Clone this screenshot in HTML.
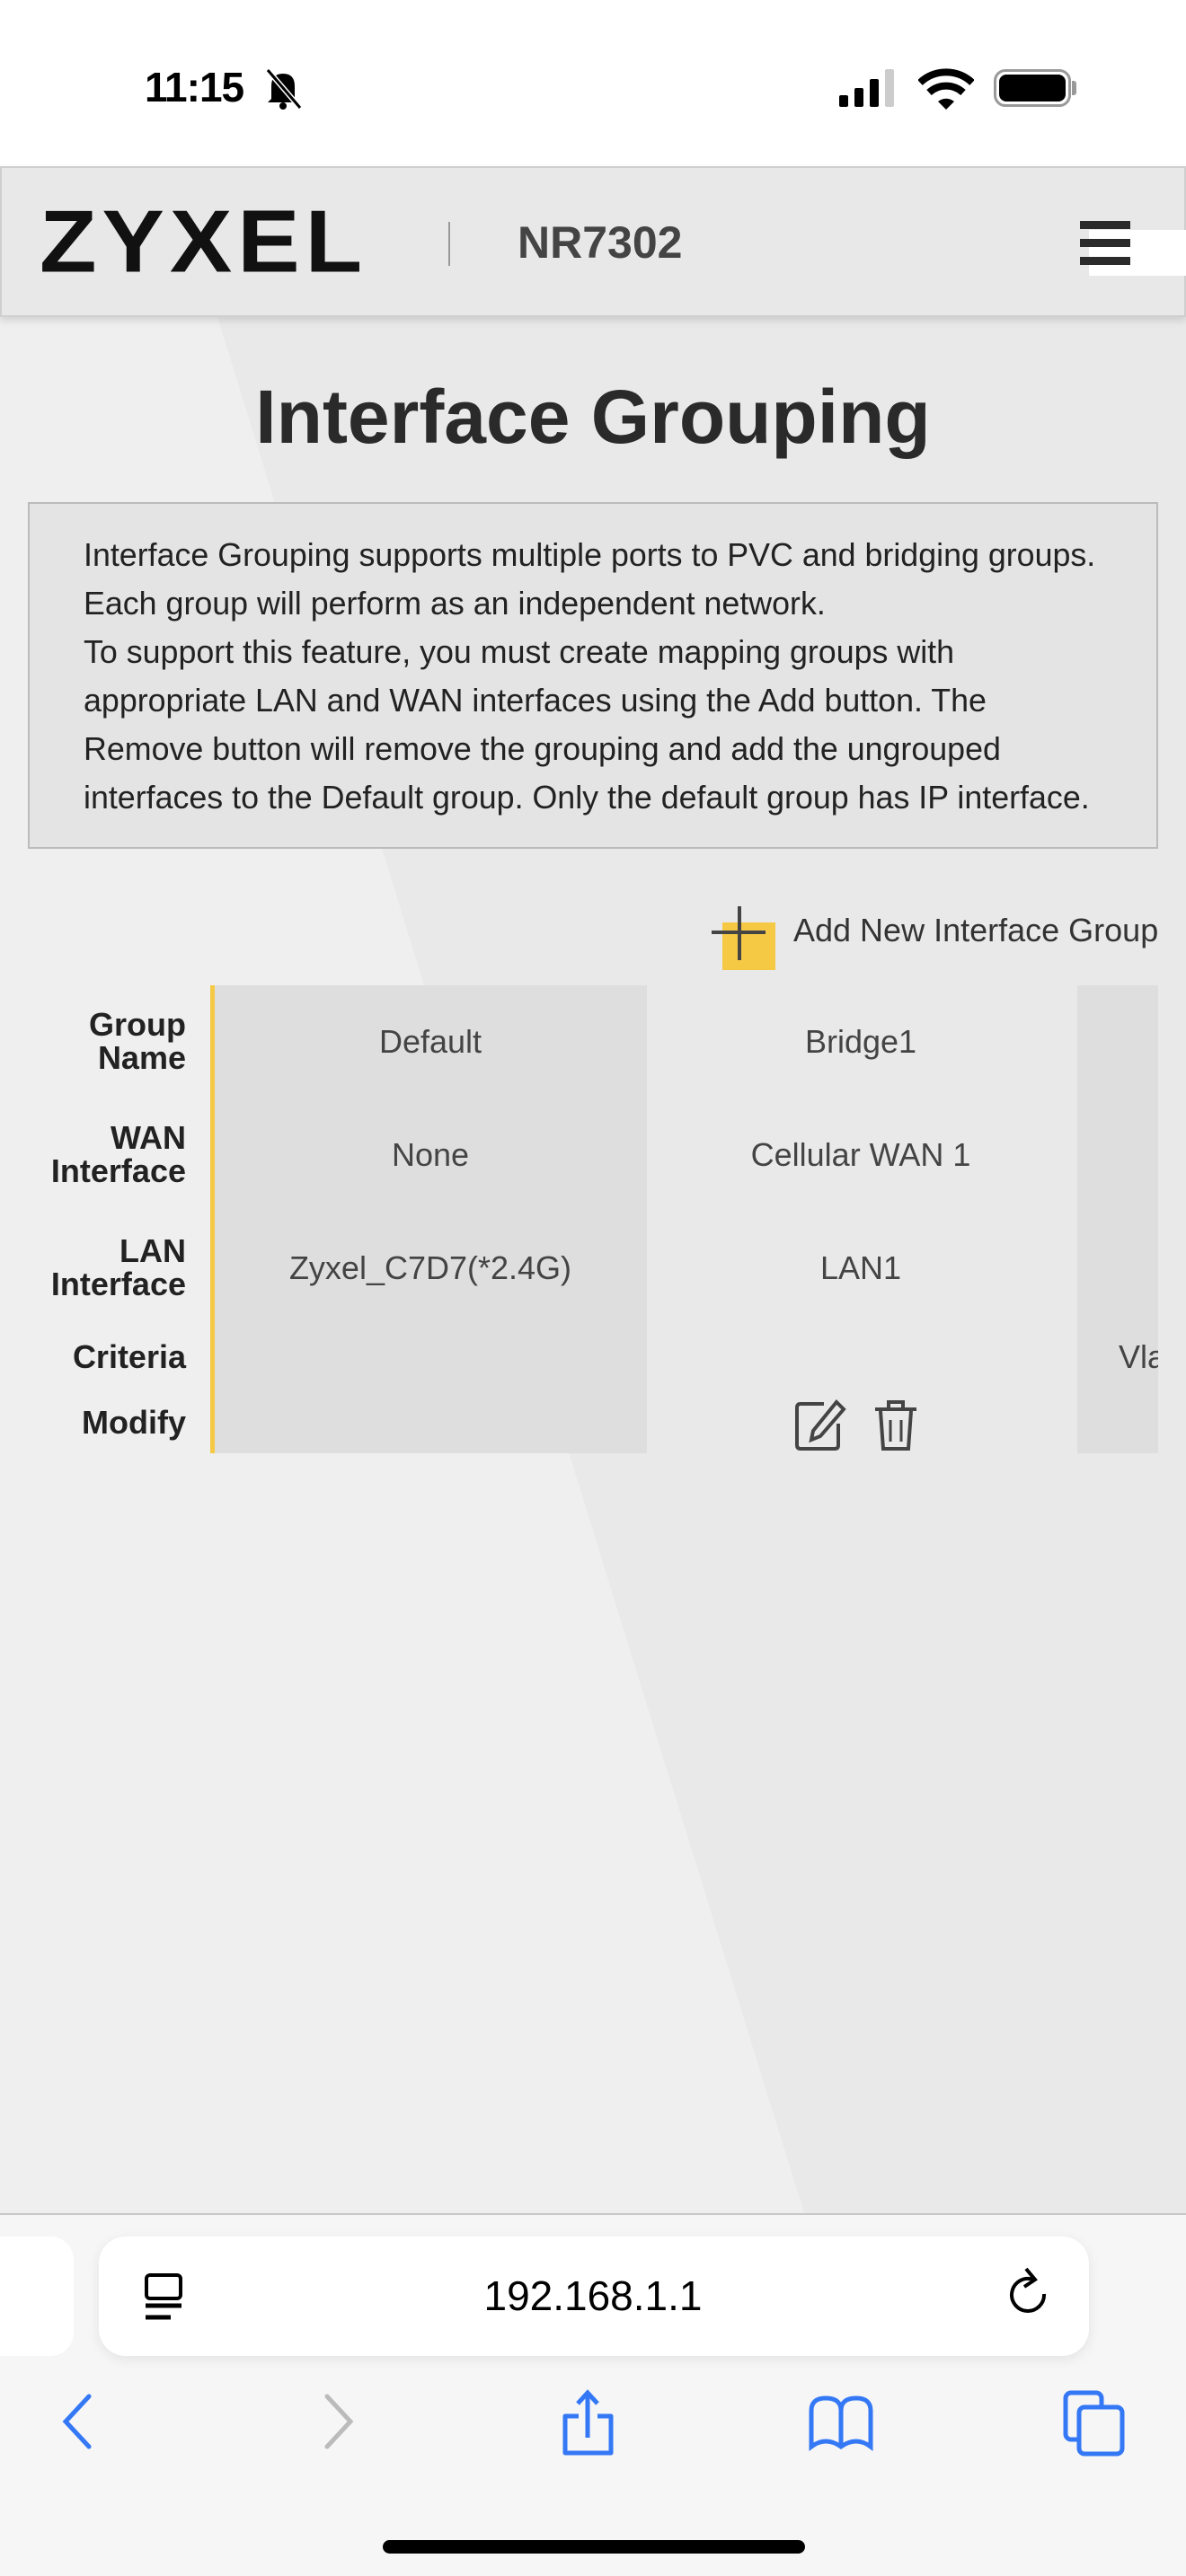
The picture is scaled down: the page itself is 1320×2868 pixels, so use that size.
<!DOCTYPE html>
<html><head><meta charset="utf-8"><style>
*{margin:0;padding:0;box-sizing:border-box}
body{width:1320px;height:2868px;position:relative;overflow:hidden;background:#fff;font-family:"Liberation Sans",Arial,sans-serif}
.a{position:absolute}
.lbl{position:absolute;right:1113px;text-align:right;font-weight:bold;font-size:36px;line-height:37px;color:#222}
.cell{position:absolute;font-size:36px;color:#444;text-align:center;transform:translate(-50%,-50%);white-space:nowrap}
.info{font-size:35.8px;line-height:54px;color:#222;white-space:nowrap}
</style></head><body>
<!-- status bar -->
<div class="a" style="left:161px;top:70px;font-size:46px;font-weight:bold;color:#000;letter-spacing:-1px">11:15</div>
<svg class="a" style="left:290px;top:74px" width="50" height="50" viewBox="0 0 50 50"><path d="M12 36 L12 22 Q12 8 25 8 Q38 8 38 22 L38 36 L42 40 L8 40 Z" fill="#000"/><circle cx="25" cy="44" r="4" fill="#000"/><line x1="8" y1="4" x2="44" y2="46" stroke="#fff" stroke-width="6"/><line x1="8" y1="4" x2="44" y2="46" stroke="#000" stroke-width="3"/></svg>
<div class="a" style="left:934px;top:106px;width:10px;height:13px;background:#000;border-radius:2px"></div>
<div class="a" style="left:951px;top:98px;width:10px;height:21px;background:#000;border-radius:2px"></div>
<div class="a" style="left:968px;top:88px;width:10px;height:31px;background:#000;border-radius:2px"></div>
<div class="a" style="left:985px;top:77px;width:10px;height:42px;background:#ccc;border-radius:2px"></div>
<svg class="a" style="left:1022px;top:76px" width="62" height="46" viewBox="0 0 62 46"><path d="M2 16 A42 42 0 0 1 60 16" stroke="#000" stroke-width="8" fill="none"/><path d="M12 27 A28 28 0 0 1 50 27" stroke="#000" stroke-width="8" fill="none"/><path d="M22 37 L31 46 L40 37 A14 14 0 0 0 22 37Z" fill="#000"/></svg>
<div class="a" style="left:1106px;top:77px;width:86px;height:42px;border:3px solid #999;border-radius:13px"></div>
<div class="a" style="left:1112px;top:83px;width:74px;height:30px;background:#000;border-radius:8px"></div>
<div class="a" style="left:1193px;top:90px;width:5px;height:16px;background:#999;border-radius:0 3px 3px 0"></div>

<!-- page bg -->
<div class="a" style="left:0;top:185px;width:1320px;height:2279px;background:#e9e9e9"></div>
<svg class="a" style="left:0;top:185px" width="1320" height="2279"><polygon points="0,0 190,0 895,2279 0,2279" fill="#efefef"/></svg>
<div class="a" style="left:0;top:185px;width:1320px;height:168px;background:#e8e8e8;border:2px solid #cfcfcf;box-shadow:0 4px 8px rgba(0,0,0,.12)"></div>
<div class="a" style="left:44px;top:220px;font-size:104px;font-weight:bold;color:#111;letter-spacing:6px;line-height:104px;transform:scaleY(0.95);transform-origin:top left">ZYXEL</div>
<div class="a" style="left:499px;top:247px;width:2px;height:49px;background:#999"></div>
<div class="a" style="left:576px;top:240px;font-size:50px;font-weight:bold;color:#444;line-height:60px">NR7302</div>
<div class="a" style="left:1212px;top:256px;width:108px;height:51px;background:#fff"></div>
<div class="a" style="left:1202px;top:246px;width:56px;height:9px;background:#2b2b2b"></div>
<div class="a" style="left:1202px;top:266px;width:56px;height:9px;background:#2b2b2b"></div>
<div class="a" style="left:1202px;top:286px;width:56px;height:9px;background:#2b2b2b"></div>

<div class="a" style="left:0;top:409px;width:1320px;text-align:center;font-size:84px;font-weight:bold;color:#2a2a2a;line-height:110px">Interface Grouping</div>

<div class="a" style="left:31px;top:559px;width:1258px;height:386px;background:#e4e4e4;border:2px solid #bbb"></div>
<div class="a info" style="left:93px;top:591px;width:1190px">Interface Grouping supports multiple ports to PVC and bridging groups.<br>Each group will perform as an independent network.<br>To support this feature, you must create mapping groups with<br>appropriate LAN and WAN interfaces using the Add button. The<br>Remove button will remove the grouping and add the ungrouped<br>interfaces to the Default group. Only the default group has IP interface.</div>

<!-- add -->
<div class="a" style="left:804px;top:1027px;width:59px;height:53px;background:#f6c945"></div>
<div class="a" style="left:792px;top:1036px;width:60px;height:4px;background:#444"></div>
<div class="a" style="left:821px;top:1009px;width:4px;height:60px;background:#444"></div>
<div class="a" style="left:883px;top:1016px;font-size:36px;color:#333;line-height:40px;white-space:nowrap">Add New Interface Group</div>

<!-- table -->
<div class="a" style="left:234px;top:1097px;width:5px;height:521px;background:#f6c945"></div>
<div class="a" style="left:239px;top:1097px;width:481px;height:521px;background:#dedede"></div>
<div class="a" style="left:1199px;top:1097px;width:90px;height:521px;background:#dedede"></div>
<div class="lbl" style="top:1122px">Group<br>Name</div>
<div class="lbl" style="top:1248px">WAN<br>Interface</div>
<div class="lbl" style="top:1374px">LAN<br>Interface</div>
<div class="lbl" style="top:1492px">Criteria</div>
<div class="lbl" style="top:1565px">Modify</div>
<div class="cell" style="left:479px;top:1160px">Default</div>
<div class="cell" style="left:958px;top:1160px">Bridge1</div>
<div class="cell" style="left:479px;top:1286px">None</div>
<div class="cell" style="left:958px;top:1286px">Cellular WAN 1</div>
<div class="cell" style="left:479px;top:1412px">Zyxel_C7D7(*2.4G)</div>
<div class="cell" style="left:958px;top:1412px">LAN1</div>
<div class="a" style="left:1245px;top:1490px;font-size:36px;color:#444;width:44px;overflow:hidden">Vla</div>
<svg class="a" style="left:883px;top:1557px" width="60" height="60" viewBox="0 0 60 60"><path d="M34 6 H8 Q4 6 4 10 V52 Q4 56 8 56 H46 Q50 56 50 52 V28" stroke="#444" stroke-width="4" fill="none"/><path d="M48 4 L56 12 L30 42 L20 46 L22 36 Z" stroke="#444" stroke-width="4" fill="none"/></svg>
<svg class="a" style="left:971px;top:1557px" width="52" height="60" viewBox="0 0 52 60"><path d="M3 12 H49 M18 12 V4 H34 V12 M9 14 L12 56 H40 L43 14" stroke="#444" stroke-width="4" fill="none"/><line x1="20" y1="24" x2="20" y2="48" stroke="#444" stroke-width="3"/><line x1="32" y1="24" x2="32" y2="48" stroke="#444" stroke-width="3"/></svg>

<!-- bottom bar -->
<div class="a" style="left:0;top:2464px;width:1320px;height:404px;background:#f6f6f6;border-top:2px solid #c8c8c8"></div>
<div class="a" style="left:-40px;top:2490px;width:122px;height:133px;background:#fff;border-radius:26px"></div>
<div class="a" style="left:110px;top:2490px;width:1102px;height:133px;background:#fff;border-radius:30px;box-shadow:0 4px 14px rgba(0,0,0,.08)"></div>
<svg class="a" style="left:160px;top:2530px" width="46" height="60" viewBox="0 0 46 60"><rect x="3" y="3" width="38" height="26" rx="4" stroke="#000" stroke-width="4" fill="none"/><line x1="2" y1="37" x2="42" y2="37" stroke="#000" stroke-width="5"/><line x1="2" y1="50" x2="30" y2="50" stroke="#000" stroke-width="5"/></svg>
<div class="a" style="left:0;top:2528px;width:1320px;text-align:center;font-size:46px;color:#000;line-height:56px">192.168.1.1</div>
<svg class="a" style="left:1120px;top:2520px" width="50" height="70" viewBox="0 0 50 70"><path d="M30 18 A18 18 0 1 0 42 34" stroke="#000" stroke-width="4" fill="none"/><path d="M22 6 L32 18 L20 26" stroke="#000" stroke-width="4" fill="none"/></svg>
<svg class="a" style="left:0;top:0" width="1320" height="2868" viewBox="0 0 1320 2868">
<path d="M99 2668 L73 2696 L99 2724" stroke="#3478f6" stroke-width="5" fill="none" stroke-linecap="round"/>
<path d="M364 2668 L390 2696 L364 2724" stroke="#bbb" stroke-width="5" fill="none" stroke-linecap="round"/>
<path d="M644 2690 H629 V2731 H680 V2690 H665" stroke="#3478f6" stroke-width="5" fill="none" stroke-linejoin="round"/>
<path d="M654 2714 V2664 M643 2676 L654 2664 L665 2676" stroke="#3478f6" stroke-width="5" fill="none"/>
<path d="M903 2724 V2684 Q903 2670 919 2670 Q936 2670 936 2684 Q936 2670 953 2670 Q969 2670 969 2684 V2724 Q953 2712 936 2724 Q919 2712 903 2724 Z M936 2684 V2722" stroke="#3478f6" stroke-width="5" fill="none"/>
<rect x="1186" y="2664" width="40" height="52" rx="6" stroke="#3478f6" stroke-width="5" fill="none"/>
<rect x="1201" y="2680" width="48" height="52" rx="6" stroke="#3478f6" stroke-width="5" fill="#f6f6f6"/>
</svg>
<div class="a" style="left:426px;top:2828px;width:470px;height:15px;background:#000;border-radius:8px"></div>
</body></html>
